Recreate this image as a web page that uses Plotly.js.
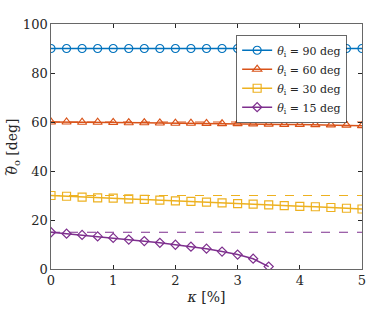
<!DOCTYPE html>
<html><head><meta charset="utf-8">
<script src="https://cdn.plot.ly/plotly-3.0.1.min.js"></script>
<style>html,body{margin:0;padding:0;background:#fff}</style>
</head><body><div id="c" style="width:374px;height:311px"></div>
<script>
const kappa = [0,0.25,0.5,0.75,1,1.25,1.5,1.75,2,2.25,2.5,2.75,3,3.25,3.5,3.75,4,4.25,4.5,4.75,5];
const kappa15 = [0,0.25,0.5,0.75,1,1.25,1.5,1.75,2,2.25,2.5,2.75,3,3.25,3.5];
const theta90 = [90,90,90,90,90,90,90,90,90,90,90,90,90,90,90,90,90,90,90,90,90];
const theta60 = [60,60,59.9,59.9,59.8,59.7,59.7,59.6,59.5,59.5,59.4,59.3,59.3,59.2,59.1,59.0,59.0,58.9,58.8,58.7,58.5];
const theta30 = [30,29.7,29.3,29.0,28.9,28.6,28.4,28.1,27.8,27.6,27.3,27.0,26.7,26.5,26.2,25.9,25.6,25.4,25.1,24.8,24.5];
const theta15 = [15,14.4,13.9,13.3,12.7,12.0,11.4,10.7,9.9,9.1,8.3,7.1,5.9,4.2,1.0];
const refX = [0,5];
const ref90 = [90,90], ref60 = [60,60], ref30 = [30,30], ref15 = [15,15];
const names = ['<i>θ</i><sub>i</sub> = 90 deg','<i>θ</i><sub>i</sub> = 60 deg','<i>θ</i><sub>i</sub> = 30 deg','<i>θ</i><sub>i</sub> = 15 deg'];
const colors = ['#0072BD','#D95319','#EDB120','#7E2F8E'];
const symbols = ['circle-open','triangle-up-open','square-open','diamond-open'];
const xs = [kappa,kappa,kappa,kappa15];
const ys = [theta90,theta60,theta30,theta15];
const refs = [ref90,ref60,ref30,ref15];
const data = [];
for (let i=0;i<4;i++){
  data.push({x:refX,y:refs[i],mode:'lines',line:{color:colors[i],width:1,dash:'dash'},showlegend:false,hoverinfo:'skip'});
}
for (let i=0;i<4;i++){
  data.push({x:xs[i],y:ys[i],mode:'lines+markers',name:names[i],
    line:{color:colors[i],width:1.5},
    marker:{symbol:symbols[i],size:i==3?7:8,color:colors[i],line:{width:1.2,color:colors[i]}}});
}
const fam = '"DejaVu Serif", serif';
const font = {family:fam,size:13,color:'#262626'};
const layout = {
  width:374,height:311,
  margin:{l:51,r:12,t:24,b:42},
  paper_bgcolor:'#fff',plot_bgcolor:'#fff',
  font:font,
  showlegend:true,
  legend:{x:0.95,y:0.955,xanchor:'right',yanchor:'top',bgcolor:'#fff',bordercolor:'#262626',borderwidth:0.7,
    font:{family:fam,size:11,color:'#262626'},tracegroupgap:0,itemwidth:30},
  xaxis:{range:[0,5],tickvals:[0,1,2,3,4,5],ticks:'inside',ticklen:4,tickcolor:'#262626',
    showline:true,mirror:'ticks',linecolor:'#262626',linewidth:0.7,showgrid:false,zeroline:false,
    title:{text:'<i>κ</i> [%]',font:{family:fam,size:14,color:'#262626'},standoff:4}},
  yaxis:{range:[0,100],tickvals:[0,20,40,60,80,100],ticks:'inside',ticklen:4,tickcolor:'#262626',
    showline:true,mirror:'ticks',linecolor:'#262626',linewidth:0.7,showgrid:false,zeroline:false,
    title:{text:'<i>θ</i><sub>o</sub> [deg]',font:{family:fam,size:14,color:'#262626'},standoff:1}},
  annotations:[{text:'~',xref:'paper',yref:'paper',x:0,y:0.5,xanchor:'center',yanchor:'middle',
    xshift:-45,yshift:-26,textangle:-90,showarrow:false,borderpad:0,font:{family:fam,size:11,color:'#262626'}}]
};
Plotly.newPlot('c',data,layout,{displayModeBar:false,staticPlot:true});
</script></body></html>
